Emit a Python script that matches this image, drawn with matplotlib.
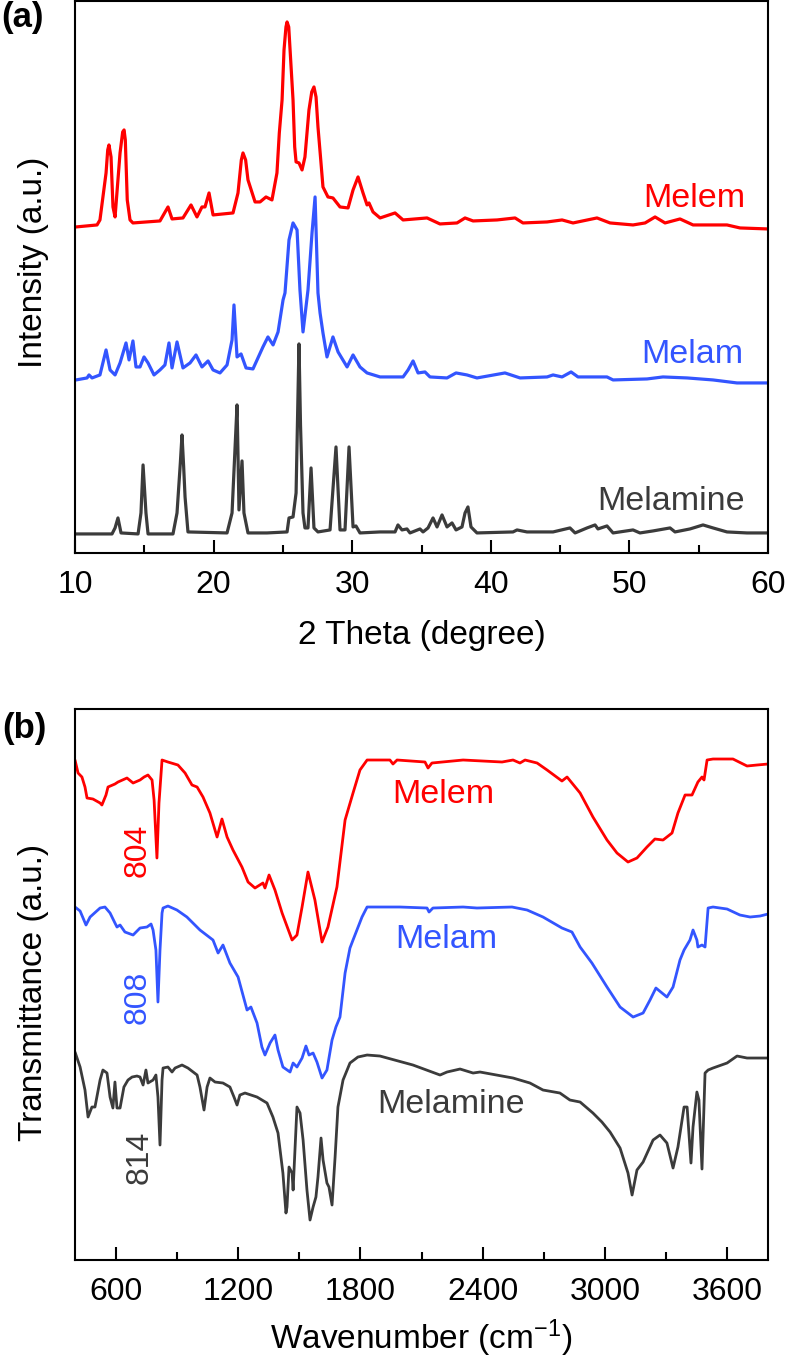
import numpy as np
import matplotlib
matplotlib.use('Agg')
import matplotlib.pyplot as plt
from matplotlib.ticker import MultipleLocator

plt.rcParams['font.family'] = ['Liberation Sans', 'DejaVu Sans']
plt.rcParams['mathtext.fontset'] = 'custom'
plt.rcParams['mathtext.rm'] = 'Liberation Sans'
plt.rcParams['mathtext.it'] = 'Liberation Sans:italic'

# ---------------- (a) XRD, 2 theta / intensity (a.u.) ----------------
melem_2t = [10.07, 11.59, 11.80, 12.24, 12.36, 12.45, 12.60, 12.74, 12.89, 13.25, 13.44, 13.54, 13.63, 13.77,
            13.97, 14.18, 16.13, 16.71, 17.00, 17.79, 18.37, 18.80, 19.16, 19.38, 19.67, 19.96, 21.40, 21.76,
            22.00, 22.12, 22.31, 22.48, 22.99, 23.35, 23.78, 24.21, 24.57, 24.74, 24.94, 25.08, 25.22, 25.30,
            25.42, 25.56, 25.73, 25.85, 25.95, 26.16, 26.38, 26.59, 26.88, 27.08, 27.24, 27.39, 27.53, 27.73,
            27.89, 28.25, 28.61, 29.12, 29.70, 30.06, 30.42, 30.78, 31.07, 31.21, 31.50, 32.01, 33.09, 33.67,
            35.40, 36.33, 37.56, 38.14, 38.72, 40.45, 41.75, 42.32, 44.06, 45.14, 45.93, 47.66, 48.60, 50.26,
            51.13, 51.85, 52.57, 53.65, 54.59, 57.04, 57.98, 60.0]
melem_I = [3, 5, 10, 57, 80, 85, 73, 23, 13, 77, 98, 100, 90, 30,
           10, 7, 9, 23, 11, 12, 25, 13, 23, 23, 37, 15, 17, 37,
           70, 77, 70, 50, 28, 28, 33, 30, 57, 97, 130, 180, 203, 208,
           203, 170, 130, 83, 68, 67, 60, 73, 120, 138, 143, 133, 103, 70,
           43, 33, 32, 23, 22, 40, 53, 37, 25, 27, 18, 12, 17, 10,
           12, 6, 7, 12, 9, 10, 12, 7, 8, 10, 7, 12, 7, 5,
           7, 13, 7, 11, 5, 5, 2, 1]

melam_2t = [10.07, 10.87, 11.01, 11.23, 11.80, 12.24, 12.53, 12.89, 13.25, 13.68, 13.90, 14.18, 14.40, 14.69,
            14.98, 15.27, 15.70, 16.13, 16.49, 16.78, 17.00, 17.36, 17.79, 18.30, 18.73, 19.16, 19.60, 19.96,
            20.46, 20.97, 21.33, 21.47, 21.69, 21.98, 22.34, 22.84, 23.56, 23.92, 24.29, 24.65, 25.01, 25.15,
            25.44, 25.73, 26.02, 26.23, 26.45, 26.81, 27.10, 27.32, 27.53, 27.68, 27.89, 28.18, 28.61, 28.98,
            29.63, 30.06, 30.56, 31.07, 32.01, 33.67, 34.03, 34.39, 34.75, 35.25, 35.61, 36.84, 37.49, 38.28,
            39.00, 41.02, 42.11, 44.06, 44.49, 45.14, 45.79, 46.29, 48.38, 48.82, 51.27, 52.42, 54.16, 56.03,
            57.76, 60.0]
melam_I = [3, 5, 8, 5, 8, 33, 13, 8, 20, 40, 23, 42, 16, 16, 26, 20, 8, 13, 18, 40, 15, 41, 15, 20, 28,
           16, 22, 13, 10, 18, 43, 78, 26, 29, 15, 14, 36, 46, 38, 51, 83, 90, 143, 160, 153, 93, 51, 93,
           150, 186, 90, 70, 50, 26, 46, 31, 16, 28, 16, 10, 6, 6, 13, 22, 10, 11, 6, 5, 10, 8, 5, 10, 5,
           6, 8, 6, 11, 6, 6, 3, 4, 6, 5, 3, 0, 0]

melamine_2t = [10.07, 12.67, 12.89, 13.10, 13.32, 14.55, 14.76, 14.91, 15.12, 15.27, 17.07, 17.36, 17.60,
               17.72, 17.84, 17.94, 18.15, 20.97, 21.33, 21.55, 21.69, 21.76, 21.83, 22.05, 22.19, 22.48,
               23.85, 25.30, 25.44, 25.73, 25.95, 26.06, 26.16, 26.27, 26.45, 26.59, 26.81, 27.03, 27.24,
               27.53, 28.40, 28.83, 29.12, 29.48, 29.77, 30.06, 30.27, 30.56, 32.01, 33.09, 33.30, 33.59,
               33.95, 34.17, 34.89, 35.11, 35.47, 35.83, 36.12, 36.48, 36.84, 37.20, 37.49, 37.92, 38.14,
               38.35, 38.57, 39.00, 41.60, 41.89, 42.61, 44.49, 45.71, 46.08, 46.94, 47.52, 47.73, 48.38,
               48.82, 50.26, 50.76, 51.70, 52.93, 53.29, 54.37, 55.31, 56.03, 57.04, 58.48, 60.0]
melamine_I = [1, 1, 7, 17, 2, 1, 22, 70, 22, 1, 1, 22, 72,
              100, 68, 38, 3, 2, 22, 88, 130, 80, 25, 74, 22, 2,
              2, 3, 17, 18, 42, 120, 191, 110, 22, 7, 7, 67, 7,
              3, 5, 88, 5, 5, 88, 8, 9, 2, 3, 3, 10, 5,
              6, 2, 6, 3, 7, 17, 8, 20, 8, 12, 5, 8, 22,
              28, 8, 2, 3, 5, 3, 3, 7, 2, 7, 10, 6, 9,
              2, 5, 2, 4, 7, 3, 6, 10, 7, 3, 2, 2]

# ---------------- (b) FTIR, wavenumber / transmittance (a.u.) ----------------
melem_wn = [400, 415, 434, 449, 459, 488, 523, 532, 552, 562, 596, 611, 655, 685, 719, 739, 758, 778, 788,
            802, 812, 827, 856, 905, 940, 974, 999, 1028, 1062, 1097, 1121, 1146, 1175, 1219, 1249, 1283,
            1322, 1332, 1352, 1381, 1416, 1465, 1489, 1514, 1543, 1577, 1612, 1641, 1685, 1725, 1764, 1798,
            1833, 1896, 1945, 1960, 1980, 2117, 2132, 2151, 2304, 2495, 2549, 2583, 2608, 2667, 2716, 2789,
            2814, 2878, 2941, 3010, 3059, 3113, 3157, 3206, 3245, 3285, 3329, 3358, 3393, 3427, 3456, 3476,
            3486, 3501, 3530, 3628, 3697, 3746, 3800]
melem_T = [200, 187, 183, 173, 162, 161, 157, 155, 165, 173, 176, 178, 182, 177, 180, 183, 185, 180, 160,
           102, 157, 200, 198, 195, 187, 175, 173, 163, 147, 123, 141, 123, 110, 93, 78, 72, 77, 72, 85,
           70, 47, 20, 25, 53, 88, 60, 18, 33, 73, 140, 167, 190, 200, 200, 200, 196, 200, 198, 192, 197,
           200, 198, 200, 197, 200, 197, 190, 179, 183, 167, 143, 120, 107, 98, 102, 113, 121, 120, 127,
           147, 165, 165, 178, 183, 180, 200, 201, 201, 194, 195, 196]

melam_wn = [400, 425, 454, 474, 523, 547, 572, 596, 606, 621, 645, 685, 719, 753, 773, 783, 797, 807, 817,
            827, 832, 856, 900, 949, 1013, 1077, 1102, 1126, 1160, 1200, 1244, 1263, 1293, 1317, 1332,
            1357, 1381, 1396, 1420, 1455, 1470, 1489, 1514, 1533, 1548, 1568, 1587, 1612, 1636, 1661, 1680,
            1700, 1725, 1749, 1764, 1808, 1833, 1994, 2127, 2137, 2156, 2304, 2372, 2544, 2618, 2696, 2789,
            2838, 2878, 2936, 3010, 3074, 3138, 3187, 3221, 3250, 3280, 3304, 3334, 3368, 3388, 3417, 3432,
            3451, 3456, 3476, 3491, 3506, 3530, 3599, 3662, 3712, 3761, 3800]
melam_T = [200, 196, 182, 190, 199, 200, 194, 184, 180, 182, 175, 172, 179, 180, 183, 177, 157, 105, 157,
           194, 199, 201, 197, 190, 177, 167, 154, 162, 144, 130, 97, 100, 84, 60, 52, 64, 72, 57, 40, 35,
           44, 40, 49, 61, 52, 54, 45, 29, 37, 67, 80, 90, 134, 159, 167, 190, 200, 200, 199, 195, 199,
           200, 199, 200, 197, 190, 179, 175, 160, 144, 120, 100, 90, 94, 107, 119, 114, 110, 120, 147,
           157, 167, 177, 167, 160, 162, 160, 199, 200, 198, 192, 190, 191, 193]

melamine_wn = [400, 425, 449, 464, 483, 498, 523, 537, 557, 572, 586, 596, 606, 621, 640, 660, 680, 704,
               719, 734, 748, 758, 783, 797, 807, 817, 827, 832, 856, 876, 891, 925, 954, 999, 1013, 1033,
               1048, 1062, 1087, 1126, 1160, 1180, 1195, 1209, 1234, 1293, 1342, 1371, 1396, 1420, 1435,
               1440, 1450, 1465, 1470, 1489, 1504, 1519, 1538, 1553, 1568, 1582, 1592, 1607, 1617, 1636,
               1646, 1661, 1676, 1690, 1715, 1749, 1788, 1833, 1896, 2058, 2191, 2225, 2289, 2353, 2387,
               2549, 2632, 2696, 2779, 2828, 2878, 2941, 2985, 3025, 3074, 3113, 3133, 3157, 3187, 3236,
               3270, 3304, 3334, 3358, 3388, 3403, 3422, 3432, 3451, 3461, 3476, 3491, 3506, 3530, 3599,
               3648, 3697, 3800]
melamine_T = [208, 193, 170, 143, 153, 153, 180, 190, 187, 163, 152, 178, 152, 152, 173, 180, 183, 184,
              183, 175, 190, 177, 180, 185, 163, 115, 180, 192, 193, 188, 192, 195, 192, 185, 173, 150,
              173, 182, 178, 177, 173, 163, 155, 165, 167, 163, 157, 143, 127, 87, 47, 53, 93, 87, 70,
              153, 147, 120, 70, 40, 53, 63, 83, 122, 100, 77, 73, 55, 103, 153, 180, 197, 203, 205, 204,
              195, 185, 188, 191, 187, 188, 182, 177, 170, 167, 160, 158, 147, 138, 128, 112, 87, 65, 90,
              98, 120, 125, 117, 92, 113, 153, 153, 97, 133, 168, 160, 91, 187, 190, 192, 197, 204, 202,
              202]

# peak marks in (b)
peak_labels = ['804', '808', '814']

RED = '#ff0000'
BLUE = '#3355ff'
DARK = '#3b3b3b'

fig = plt.figure(figsize=(7.87, 13.69), dpi=100)
ax_a = fig.add_axes([0.0953, 0.5961, 0.8806, 0.4032])
ax_b = fig.add_axes([0.0953, 0.0796, 0.8806, 0.4025])

# (a) stacked XRD patterns
line_kw = dict(solid_joinstyle='round', solid_capstyle='round')
ax_a.plot(melem_2t, np.array(melem_I) + 323, color=RED, lw=2.3, **line_kw)
ax_a.plot(melam_2t, np.array(melam_I) + 170, color=BLUE, lw=2.3, **line_kw)
ax_a.plot(melamine_2t, np.array(melamine_I) + 18, color=DARK, lw=2.3, **line_kw)
ax_a.set_xlim(10, 60)
ax_a.set_ylim(0, 552)
ax_a.xaxis.set_major_locator(MultipleLocator(10))
ax_a.xaxis.set_minor_locator(MultipleLocator(5))
ax_a.text(58.34, 346, 'Melem', color=RED, fontsize=24.5, ha='right', va='baseline')
ax_a.text(58.2, 190, 'Melam', color=BLUE, fontsize=24.5, ha='right', va='baseline')
ax_a.text(58.34, 43, 'Melamine', color=DARK, fontsize=24.5, ha='right', va='baseline')
ax_a.set_xlabel('2 Theta (degree)', fontsize=24)
ax_a.set_ylabel('Intensity (a.u.)', fontsize=24)
ax_a.xaxis.set_label_coords(0.5, -0.122)
ax_a.yaxis.set_label_coords(-0.037, 0.527)

# (b) stacked FTIR spectra
ax_b.plot(melem_wn, np.array(melem_T) + 300, color=RED, lw=2.0, **line_kw)
ax_b.plot(melam_wn, np.array(melam_T) + 153, color=BLUE, lw=2.0, **line_kw)
ax_b.plot(melamine_wn, np.array(melamine_T), color=DARK, lw=2.0, **line_kw)
ax_b.set_xlim(400, 3800)
ax_b.set_ylim(0, 551)
ax_b.xaxis.set_major_locator(MultipleLocator(600))
ax_b.xaxis.set_minor_locator(MultipleLocator(300))
ax_b.text(1955, 457, 'Melem', color=RED, fontsize=24.5, ha='left', va='baseline')
ax_b.text(1970, 312, 'Melam', color=BLUE, fontsize=24.5, ha='left', va='baseline')
ax_b.text(1882, 147, 'Melamine', color=DARK, fontsize=24.5, ha='left', va='baseline')
ax_b.text(707, 410, peak_labels[0], color=RED, fontsize=23, rotation=90, ha='center', va='center')
ax_b.text(709, 263, peak_labels[1], color=BLUE, fontsize=23, rotation=90, ha='center', va='center')
ax_b.text(719, 103, peak_labels[2], color=DARK, fontsize=23, rotation=90, ha='center', va='center')
ax_b.set_xlabel('Wavenumber (cm$^{-1}$)', fontsize=24)
ax_b.set_ylabel('Transmittance (a.u.)', fontsize=24)
ax_b.xaxis.set_label_coords(0.5, -0.105)
ax_b.yaxis.set_label_coords(-0.037, 0.485)

for ax in (ax_a, ax_b):
    ax.set_yticks([])
    ax.tick_params(axis='x', which='major', direction='in', length=9.5, width=1.5,
                   labelsize=23, pad=12)
    ax.tick_params(axis='x', which='minor', direction='in', length=5.5, width=1.5)
    for sp in ax.spines.values():
        sp.set_linewidth(1.5)

fig.text(0.001, 0.9995, '(a)', fontsize=25, fontweight='bold', ha='left', va='top')
fig.text(0.003, 1 - 712 / 1369, '(b)', fontsize=25, fontweight='bold', ha='left', va='top')

fig.savefig('out.png', dpi=100)
